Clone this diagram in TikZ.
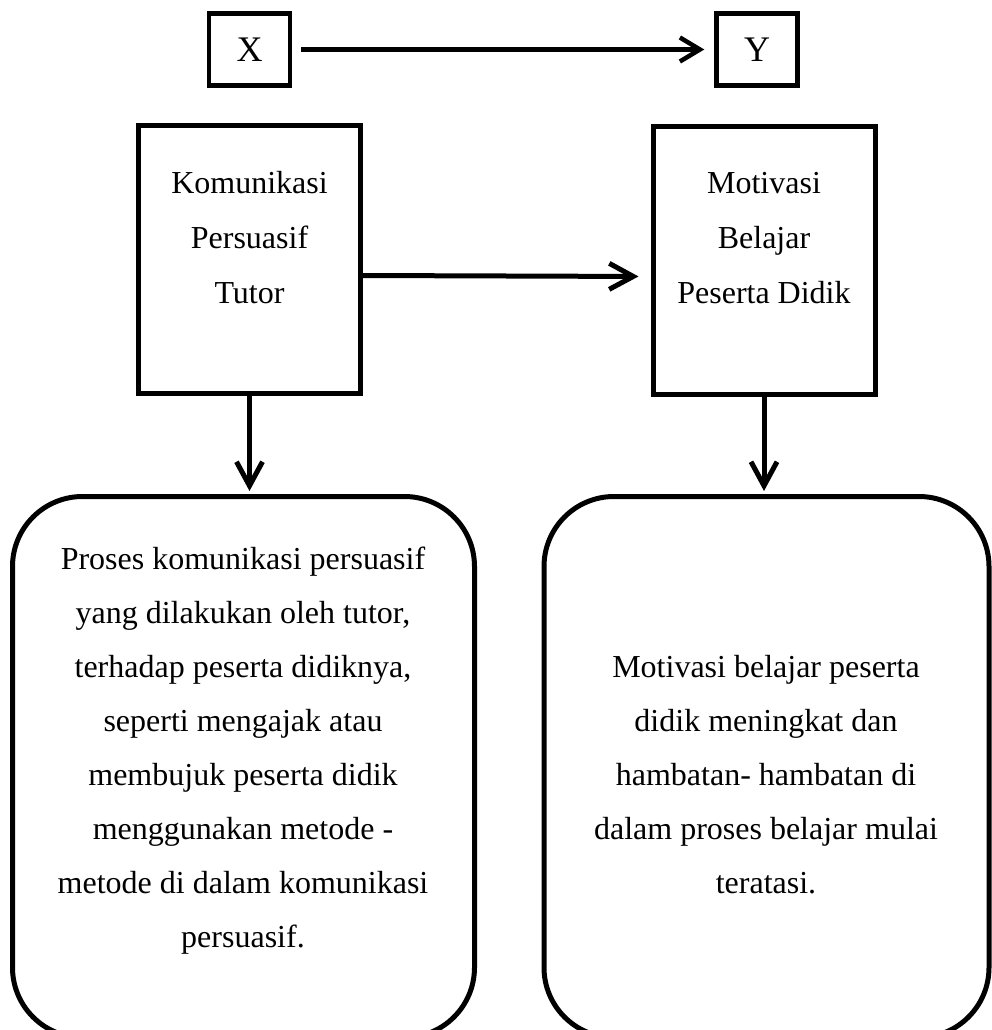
\documentclass[tikz,border=0pt]{standalone}
\usepackage{fontspec}
\setmainfont{Liberation Serif}
\usetikzlibrary{arrows.meta,positioning}

\begin{document}
\begin{tikzpicture}[x=1pt,y=-1pt,
    varbox/.style={draw, line width=4.5pt, inner sep=0pt,
      minimum width=81pt, minimum height=72pt, font=\fontsize{36}{40}\selectfont},
    konsep/.style={draw, line width=5pt, minimum width=222pt, minimum height=268pt},
    uraian/.style={draw, line width=5pt, rounded corners=70pt, minimum height=541pt},
    teks/.style={align=center, inner sep=0pt, font=\fontsize{32}{54}\selectfont},
    panah/.style={line width=5pt, -{Straight Barb[length=24pt,width=26pt]}}]
        % Frame
        \useasboundingbox (0,0) rectangle (992,1030);
        \clip (0,0) rectangle (992,1030);

        % Variables
        \node[varbox] (X) at (249.5,49.5) {X};
        \node[varbox] (Y) at (757,49.5) {Y};

        % Concept boxes
        \node[konsep] (komunikasi) at (249.5,259.5) {};
        \node[konsep] (motivasi) at (764,260.5) {};
        \node[teks, font=\fontsize{32}{55}\selectfont] (komunikasiteks) at (249.5,238) {Komunikasi\\Persuasif\\Tutor};
        \node[teks, font=\fontsize{32}{55}\selectfont] (motivasiteks) at (764,238) {Motivasi\\Belajar\\Peserta Didik};

        % Description boxes
        \node[uraian, minimum width=462pt] (uraiankiri) at (243.5,767) {};
        \node[uraian, minimum width=445pt] (uraiankanan) at (766.5,767) {};
        \node[teks] (prosesteks) at (243,751) {Proses komunikasi persuasif\\yang dilakukan oleh tutor,\\terhadap peserta didiknya,\\seperti mengajak atau\\membujuk peserta didik\\menggunakan metode -\\metode di dalam komunikasi\\persuasif.};
        \node[teks] (hasilteks) at (766,775) {Motivasi belajar peserta\\didik meningkat dan\\hambatan- hambatan di\\dalam proses belajar mulai\\teratasi.};

        % Arrows
        \draw[panah, line width=4.5pt, -{Straight Barb[length=20pt,width=24pt]},
          shorten <=9pt, shorten >=10pt] (X) -- (Y);
        \draw[panah, shorten >=12pt] ([yshift=-16pt]komunikasi.east) -- ([yshift=-16pt]motivasi.west);
        \draw[panah, shorten >=3pt] (komunikasi.south) -- (komunikasi.south |- uraiankiri.north);
        \draw[panah, shorten >=3pt] (motivasi.south) -- (motivasi.south |- uraiankanan.north);
      \end{tikzpicture}
\end{document}
